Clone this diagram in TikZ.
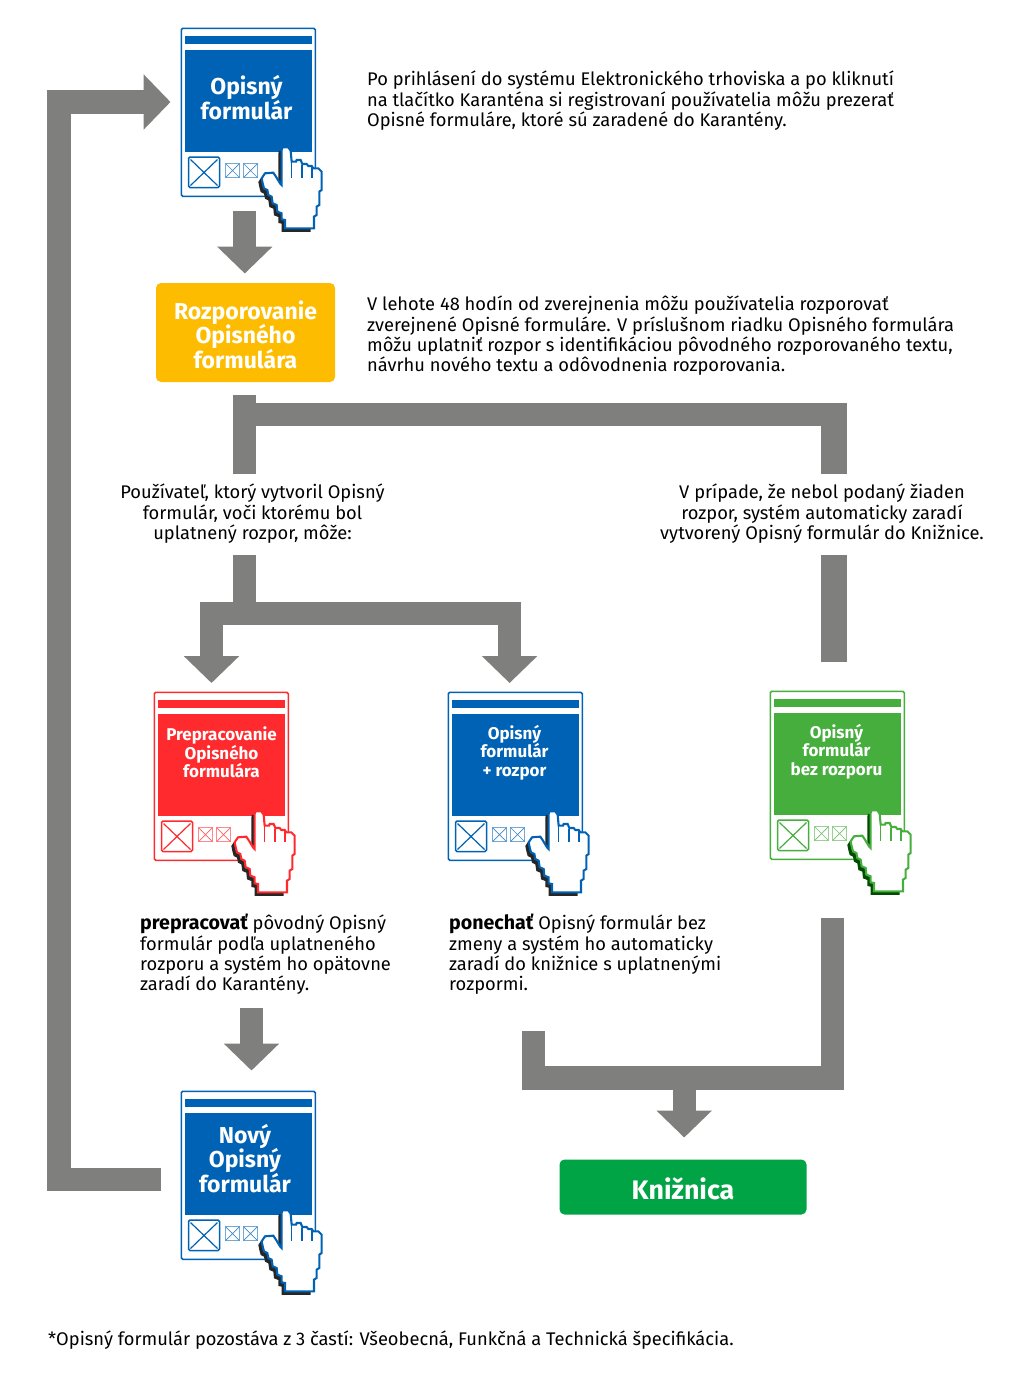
\documentclass[tikz,border=0pt]{standalone}
\usepackage{fontspec}
\setmainfont{Fira Sans}
\usetikzlibrary{arrows.meta}
\definecolor{cblue}{HTML}{0062B4}
\definecolor{cred}{HTML}{FF2A2E}
\definecolor{cgreen}{HTML}{45AE3C}
\definecolor{cgray}{HTML}{7F7F7D}
\definecolor{cyel}{HTML}{FDBC00}
\definecolor{clib}{HTML}{00A445}
\tikzset{
  pipe/.style={draw=cgray,line width=23.2pt,line join=miter,line cap=butt},
  pipearrow/.style={pipe,-{Triangle[width=53.6pt,length=26.8pt]}},
  para/.style={align=left,anchor=north west,inner sep=0pt,font=\fontsize{18.3}{20.3}\selectfont},
  paraC/.style={align=center,anchor=north,inner sep=0pt,font=\fontsize{18.3}{20.3}\selectfont},
  formtitle/.style={align=center,text=white,inner sep=0pt,font=\bfseries},
  formbox/.style={rectangle,rounded corners=1.5pt,line width=1.5pt,fill=white,minimum width=134pt,minimum height=168pt,inner sep=0pt,anchor=north west},
}
\newcommand{\boldword}[1]{{\fontsize{19.6}{20.3}\selectfont\bfseries #1}}
\newcommand{\lowered}[1]{\raisebox{-2pt}[\height][\depth]{#1}}
\newcommand{\handpath}{(337,382) -- (355,382) -- (362,392) -- (365,425) -- (378,425) -- (380,420) -- (392,420) -- (397,432) -- (410,432) -- (415,438) -- (425,438) -- (430,445) -- (445,445) -- (455,455) -- (455,510) -- (448,515) -- (448,555) -- (440,560) -- (440,585) -- (432,590) -- (432,625) -- (345,625) -- (345,600) -- (335,598) -- (335,580) -- (322,575) -- (320,555) -- (308,550) -- (305,530) -- (295,525) -- (292,510) -- (282,505) -- (278,490) -- (275,475) -- (285,460) -- (310,458) -- (318,470) -- (330,490) -- (335,495) -- (335,390) -- cycle}
% #1 name  #2 x  #3 y  #4 colour  #5 shadow  #6 text style size  #7 title  #8 title y offset
\newcommand{\formcard}[8]{%
  \node[formbox,draw=#4] (#1) at (#2,#3) {};
  \fill[#4] (#2+4,#3+8) rectangle (#2+131,#3+16);
  \fill[#4] (#2+4,#3+22) rectangle (#2+131,#3+124);
  \draw[#4,line width=1.5pt,rounded corners=1.5pt] (#2+8,#3+129.5) rectangle (#2+39,#3+160);
  \draw[#4,line width=1.2pt] (#2+10,#3+132) -- (#2+37,#3+158) (#2+37,#3+132) -- (#2+10,#3+158);
  \foreach \ox in {45,63}{
    \draw[#4!55,line width=1pt] (#2+\ox,#3+136) rectangle (#2+\ox+14,#3+150);
    \draw[#4!75,line width=.7pt] (#2+\ox,#3+136) -- (#2+\ox+14,#3+150) (#2+\ox+14,#3+136) -- (#2+\ox,#3+150);
  }
  \begin{scope}[shift={(#2-10.5,#3-7.5)},x=0.3333pt,y=-0.3333pt]
    \fill[#5,shift={(-10,11)}] \handpath;
    \draw[#4,fill=white,line width=2.1pt,line join=miter] \handpath;
    \draw[#4,line width=1.4pt] (365,425) -- (365,475) (396,436) -- (396,475) (426,442) -- (426,475);
  \end{scope}
  \node[formtitle,#6] (#1t) at (#2+66,#3+#8) {#7};
}
\begin{document}
\begin{tikzpicture}[x=1pt,y=-1pt]
\useasboundingbox (0,0) rectangle (1024,1384);
% coordinates for connector ends
\coordinate (a1) at (244.8,211); \coordinate (a1e) at (244.8,273.5);
\coordinate (lp0) at (161,1179.5); \coordinate (lp1) at (59,1179.5); \coordinate (lp2) at (59,102); \coordinate (lpe) at (170.5,102);
\coordinate (t0) at (244.8,395); \coordinate (t1) at (244.8,414.7); \coordinate (t2) at (847,414.7); \coordinate (t2b) at (834,403); \coordinate (t3) at (834,473.5); \coordinate (t4) at (244.8,473.5);
\coordinate (b0) at (244.8,555.3); \coordinate (b1) at (244.8,613.8); \coordinate (b2) at (211.5,613.8); \coordinate (b3) at (211.5,683); \coordinate (b4) at (509.6,613.8); \coordinate (b5) at (509.6,683);
\coordinate (g0) at (834,555.3); \coordinate (g1) at (834,662);
\coordinate (r0) at (251.5,1008); \coordinate (r1) at (251.5,1070.5);
\coordinate (k0) at (832.7,918); \coordinate (k1) at (832.7,1078); \coordinate (k2) at (533.8,1078); \coordinate (k3) at (533.8,1030.5); \coordinate (k4) at (684.2,1078); \coordinate (k5) at (684.2,1137.5);
% connectors
\draw[pipearrow] (lp0) -- (lp1) -- (lp2) -- (lpe);
\draw[pipearrow] (a1) -- (a1e);
\draw[pipe] (t4) -- (t0);
\draw[pipe] (t1) -- (t2);
\draw[pipe,line width=26pt] (t2b) -- (t3);
\draw[pipe] (b0) -- (b1);
\draw[pipearrow] (b1) -- (b2) -- (b3);
\draw[pipearrow] (b1) -- (b4) -- (b5);
\draw[pipe,line width=26pt] (g0) -- (g1);
\draw[pipearrow] (r0) -- (r1);
\draw[pipe] (k0) -- (k1) -- (k2) -- (k3);
\draw[pipearrow] (k4) -- (k5);
% forms
\formcard{f1}{180.5}{27.5}{cblue}{black!85}{font=\fontsize{23}{24.3}\selectfont\bfseries}{Opisný\\formulár}{70}
\formcard{f2}{153.5}{691.5}{cred}{black!85}{xshift=2pt,font=\fontsize{17}{18.3}\selectfont\bfseries}{Prepracovanie\\Opisného\\formulára}{61}
\formcard{f3}{447.5}{691.5}{cblue}{black!85}{xshift=1pt,font=\fontsize{17}{18.3}\selectfont\bfseries}{Opisný\\formulár\\+ rozpor}{61}
\formcard{f4}{769.5}{690.5}{cgreen}{green!30!black}{xshift=1pt,font=\fontsize{17}{18.3}\selectfont\bfseries}{Opisný\\formulár\\bez rozporu}{61}
\formcard{f5}{180.5}{1090.5}{cblue}{black!85}{xshift=-1.5pt,font=\fontsize{23}{24.5}\selectfont\bfseries}{Nový\\Opisný\\formulár}{68}
% boxes
\node[fill=cyel,rounded corners=5pt,minimum width=179pt,minimum height=99pt,inner sep=0pt,text=white,align=center,font=\fontsize{23}{24.5}\selectfont\bfseries] (roz) at (245.5,332.5) {\lowered{Rozporovanie}\\\lowered{Opisného}\\\lowered{formulára}};
\node[fill=clib,rounded corners=5pt,minimum width=247pt,minimum height=55pt,inner sep=0pt,text=white,font=\fontsize{26.8}{28}\selectfont\bfseries] (kniz) at (683,1187) {\lowered{Knižnica}};
% texts
\node[para] (p1) at (367,71) {Po prihlásení do systému Elektronického trhoviska a po kliknutí\\na tlačítko Karanténa si registrovaní používatelia môžu prezerať\\Opisné formuláre, ktoré sú zaradené do Karantény.};
\node[para] (p2) at (367,296) {V lehote 48 hodín od zverejnenia môžu používatelia rozporovať\\zverejnené Opisné formuláre. V príslušnom riadku Opisného formulára\\môžu uplatniť rozpor s identifikáciou pôvodného rozporovaného textu,\\návrhu nového textu a odôvodnenia rozporovania.};
\node[paraC] (p3) at (252.5,484) {Používateľ, ktorý vytvoril Opisný\\formulár, voči ktorému bol\\uplatnený rozpor, môže:};
\node[paraC] (p4) at (822,484) {V prípade, že nebol podaný žiaden\\rozpor, systém automaticky zaradí\\vytvorený Opisný formulár do Knižnice.};
\node[para] (p5) at (140,914) {\boldword{prepracovať} pôvodný Opisný\\formulár podľa uplatneného\\rozporu a systém ho opätovne\\zaradí do Karantény.};
\node[para] (p6) at (449,914) {\boldword{ponechať} Opisný formulár bez\\zmeny a systém ho automaticky\\zaradí do knižnice s uplatnenými\\rozpormi.};
\node[para] (p7) at (48,1330.5) {*Opisný formulár pozostáva z 3 častí: Všeobecná, Funkčná a Technická špecifikácia.};
\end{tikzpicture}
\end{document}
